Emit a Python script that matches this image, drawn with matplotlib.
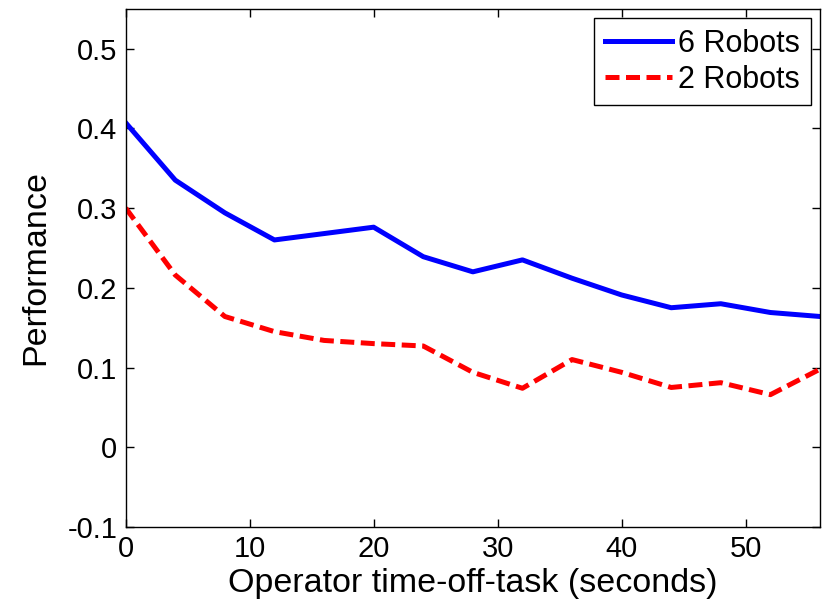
import matplotlib
matplotlib.use("Agg")
import matplotlib.pyplot as plt

# time-off-task in seconds
time_off = [0, 4, 8, 12, 16, 20, 24, 28, 32, 36, 40, 44, 48, 52, 56]
perf_6 = [0.407, 0.335, 0.294, 0.260, 0.268, 0.276, 0.239, 0.220, 0.235, 0.212,
          0.191, 0.175, 0.180, 0.169, 0.164]
perf_2 = [0.300, 0.216, 0.164, 0.145, 0.134, 0.130, 0.127, 0.094, 0.074, 0.110,
          0.094, 0.075, 0.081, 0.066, 0.098]
labels = ["6 Robots", "2 Robots"]

plt.rcParams['font.family'] = ['Liberation Sans', 'DejaVu Sans']

fig = plt.figure(figsize=(8.23, 6.03), dpi=100)
ax = fig.add_axes([0.1527, 0.126, 0.8437, 0.8596])

ax.plot(time_off, perf_6, color='#0000ff', linewidth=3.6, label=labels[0])
ax.plot(time_off, perf_2, color='#ff0000', linewidth=3.6, linestyle=(0, (2.8, 1.3)),
        label=labels[1])

ax.set_xlim(0, 56)
ax.set_ylim(-0.1, 0.55)
ax.set_xticks([0, 10, 20, 30, 40, 50])
ax.set_yticks([-0.1, 0, 0.1, 0.2, 0.3, 0.4, 0.5])
ax.set_yticklabels(["-0.1", "0", "0.1", "0.2", "0.3", "0.4", "0.5"])
ax.tick_params(direction='in', top=True, right=True, labelsize=21, length=6, width=1, pad=6)
for s in ax.spines.values():
    s.set_linewidth(1)

ax.set_xlabel("Operator time-off-task (seconds)", fontsize=24.5, labelpad=3)
ax.set_ylabel("Performance", fontsize=24.5, labelpad=12)

leg = ax.legend(loc='upper right', fontsize=22, fancybox=False, framealpha=1,
                edgecolor='black', handlelength=2.2, borderaxespad=0.3,
                labelspacing=0.2, handletextpad=0.2, borderpad=0.35)
leg.get_frame().set_linewidth(1)

fig.savefig("out.png", dpi=100)
